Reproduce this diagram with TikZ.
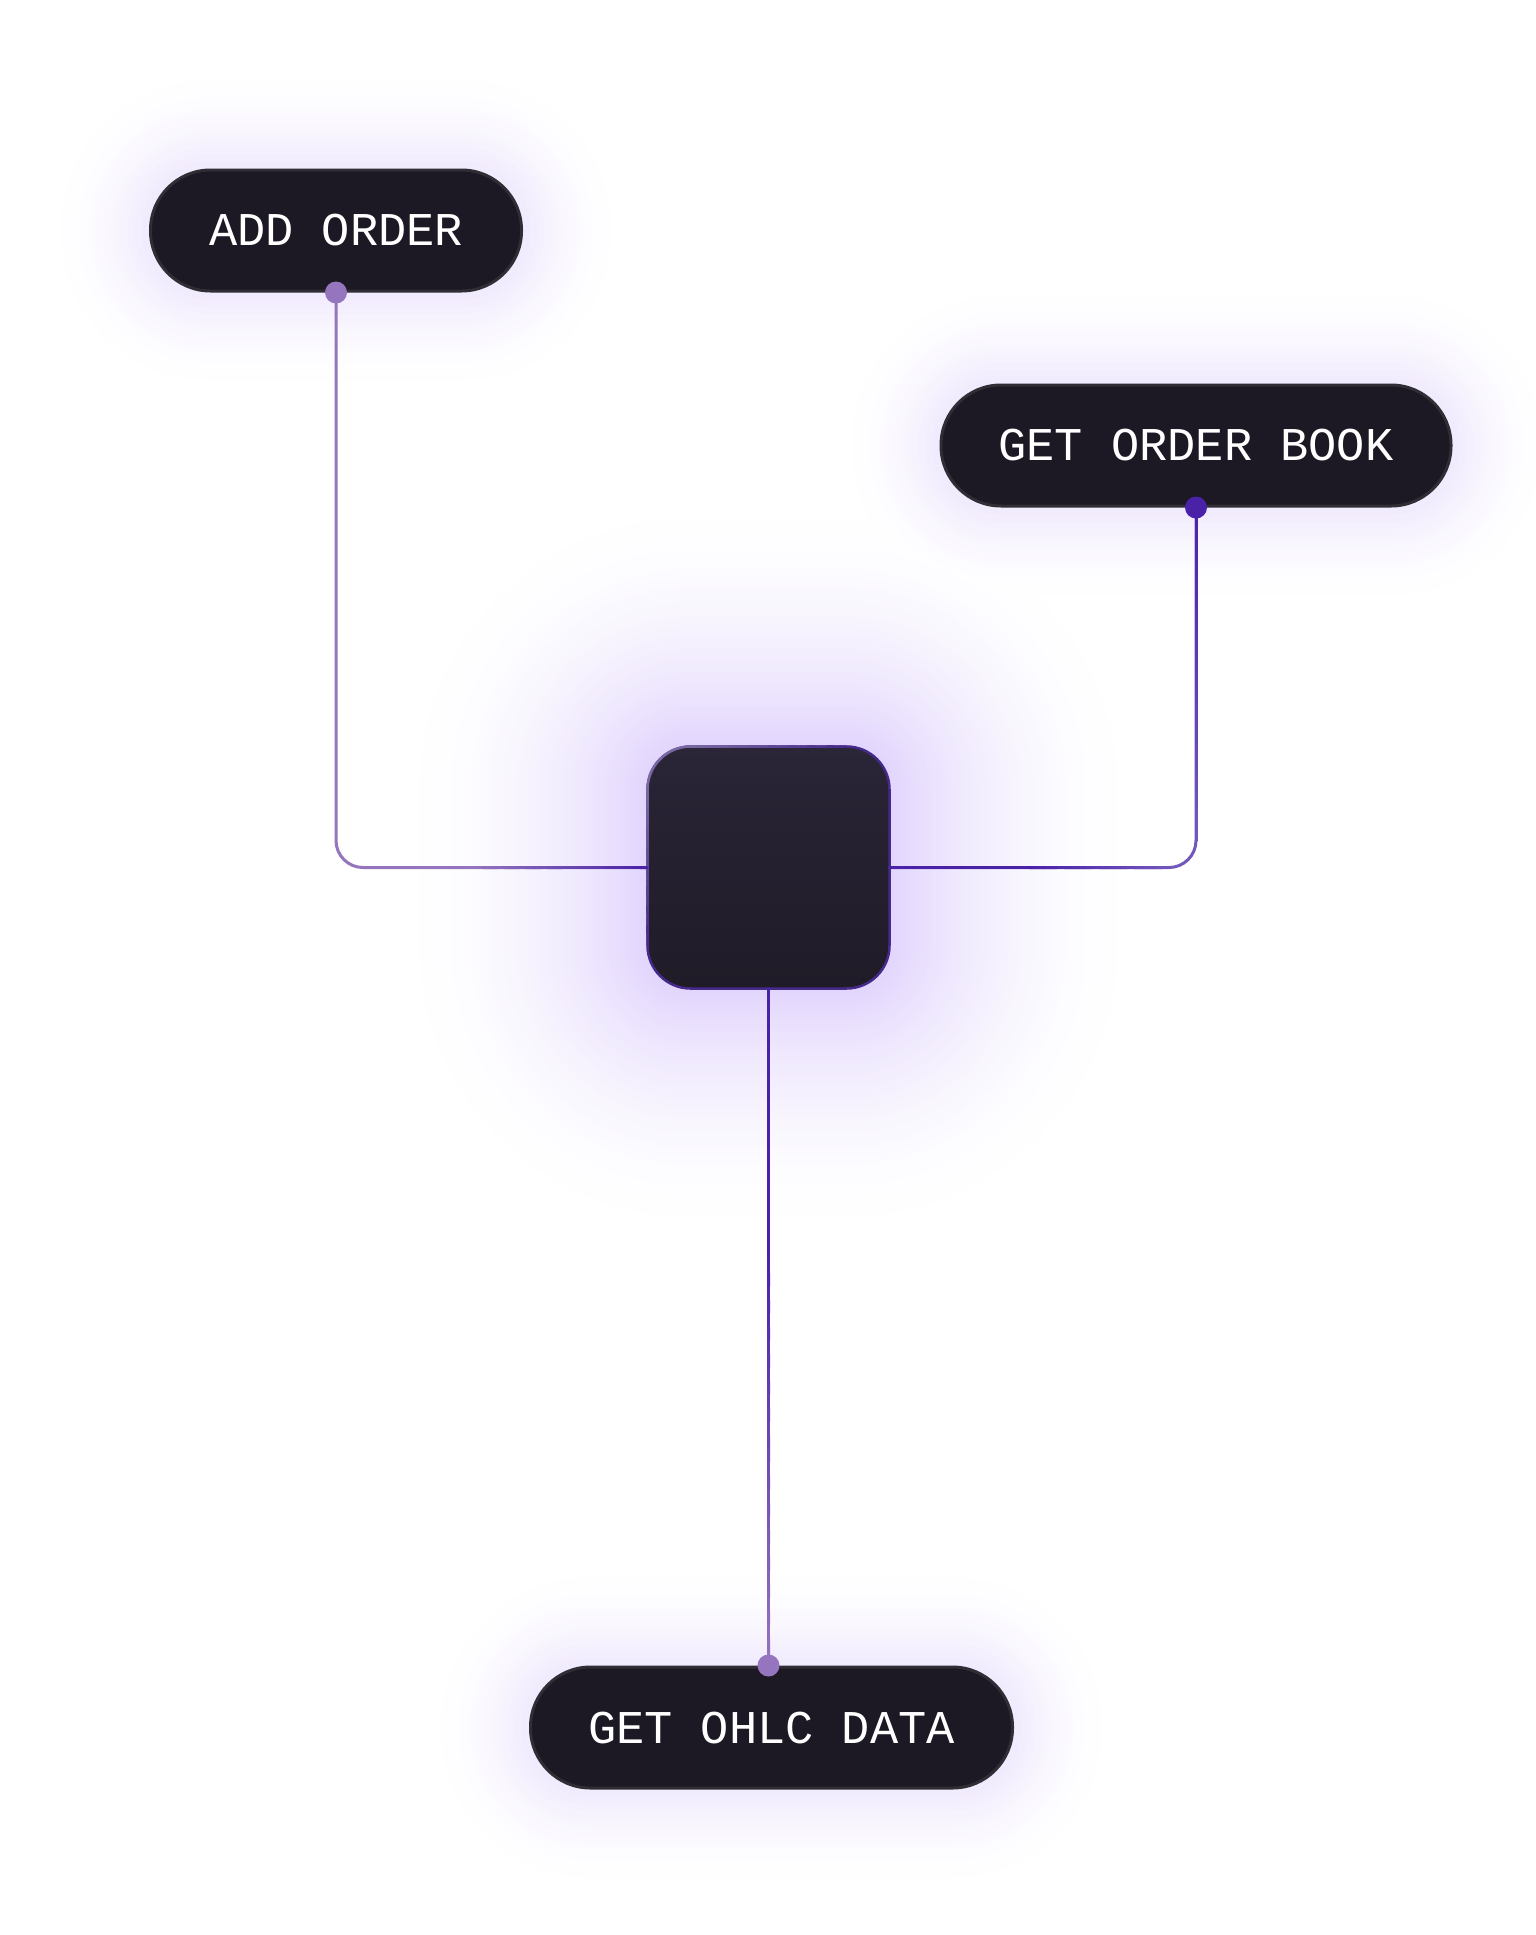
\documentclass[tikz,border=0pt]{standalone}
\usepackage{fontspec}
\setmonofont{Liberation Mono}
\usetikzlibrary{calc,backgrounds}
\definecolor{pillfill}{HTML}{1C1824}
\definecolor{pillborder}{HTML}{302D34}
\definecolor{lightp}{HTML}{9475BE}
\definecolor{darkp}{HTML}{4A22A8}
\definecolor{midp}{HTML}{7357BD}
\definecolor{glowc}{HTML}{C4AAFB}
\definecolor{sqtop}{HTML}{2A2537}
\definecolor{sqbot}{HTML}{1F1B27}
\definecolor{sqborder}{HTML}{452A8A}
\definecolor{sqhilite}{HTML}{7A68A0}
\tikzset{
  pill/.style={draw=pillborder, line width=3pt, fill=pillfill, rounded corners=60pt,
    minimum height=121pt, inner sep=0pt, text=white,
    font=\ttfamily\fontsize{47pt}{47pt}\selectfont},
  conn/.style={line width=3pt, line cap=round},
  rim/.style={line width=2.5pt, line cap=round},
  dotc/.style={circle, inner sep=0pt, minimum size=22pt},
}
% glow: node, layers, step size, max intensity, base radius, colour
\newcommand\glowbox[6]{%
  \foreach \k in {#2,...,1}{%
    \pgfmathsetmacro\dd{\k*#3}%
    \pgfmathsetmacro\rr{#5+\dd}%
    \pgfmathtruncatemacro\ii{round(#4*(1-\k/#2)^2)}%
    \fill[#6!\ii!white, blend mode=darken, rounded corners=\rr pt]
      ([xshift=-\dd pt, yshift=\dd pt]#1.north west) rectangle
      ([xshift=\dd pt, yshift=-\dd pt]#1.south east);
  }}
% gradient line: style, from, to, colour A, colour B, segments
\newcommand\gline[6]{%
  \foreach \i in {1,...,#6}{%
    \pgfmathsetmacro\ta{(\i-1)/#6}%
    \pgfmathsetmacro\tb{\i/#6}%
    \pgfmathtruncatemacro\pc{100*(1-(\i-0.5)/#6)}%
    \draw[#1, draw=#4!\pc!#5] ($(#2)!\ta!(#3)$) -- ($(#2)!\tb!(#3)$);
  }}
\begin{document}
\begin{tikzpicture}[x=1pt,y=-1pt]
\useasboundingbox (0,0) rectangle (1536,1935);

% nodes
\node[pill, minimum width=371pt] (add) at (336,230.5) {ADD ORDER};
\node[pill, minimum width=510pt] (gob) at (1196,445.5) {GET ORDER BOOK};
\node[pill, minimum width=482pt] (ohlc) at (771.5,1727.5) {GET OHLC DATA};
\node[draw=sqborder, line width=2.5pt, top color=sqtop, bottom color=sqbot,
      rounded corners=43pt, minimum size=242pt, inner sep=0pt, outer sep=0pt] (sq) at (768.5,867.5) {};
% lighter rim on the upper left of the square, fading out
\coordinate (rA) at ($(sq.north west)+(0pt,-43pt)$);
\coordinate (rB) at ($(sq.north west)+(43pt,0pt)$);
\coordinate (rT) at ($(sq.north east)+(-43pt,0pt)$);
\coordinate (rL) at ($(sq.south west)+(0pt,43pt)$);
\draw[rim, sqhilite, rounded corners=43pt] (rA) -- (sq.north west) -- (rB);
\gline{rim}{rB}{rT}{sqhilite}{sqborder}{24}
\gline{rim}{rA}{rL}{sqhilite}{sqborder}{24}

\begin{pgfonlayer}{background}
  \fill[white] (0,0) rectangle (1536,1935);
  \glowbox{sq}{64}{4}{50}{43}{glowc}
  \glowbox{add}{30}{3.5}{26}{60}{glowc}
  \glowbox{gob}{30}{3.5}{26}{60}{glowc}
  \glowbox{ohlc}{30}{3.5}{26}{60}{glowc}
\end{pgfonlayer}

% connector end points
\coordinate (p1) at (add.south);
\coordinate (p2) at (gob.south);
\coordinate (p3) at (sq.south |- ohlc.north);

% helper coordinates
\coordinate (cL) at (p1 |- sq.west);
\coordinate (cR) at (p2 |- sq.east);
\coordinate (mL) at ($(cL)!0.45!(sq.west)$);
\coordinate (cRv) at ($(cR)+(0pt,27pt)$);
\coordinate (cRh) at ($(cR)+(-27pt,0pt)$);
\coordinate (mR) at ($(sq.east)!0.5!(cRh)$);
\coordinate (mB) at ($(sq.south)!0.4!(p3)$);

% connectors (base)
\draw[conn, draw=lightp, rounded corners=27pt] (p1) -- (cL) -- (sq.west);
\draw[conn, draw=midp, rounded corners=27pt] (p2) -- (cR) -- (sq.east);
\draw[conn, draw=darkp] (sq.south) -- (p3);
% gradients
\gline{conn}{mL}{sq.west}{lightp}{darkp}{24}
\gline{conn}{p2}{cRv}{darkp}{midp}{30}
\gline{conn}{cRh}{mR}{midp}{darkp}{20}
\draw[conn, draw=darkp] (mR) -- (sq.east);
\gline{conn}{mB}{p3}{darkp}{lightp}{30}

% dots
\node[dotc, fill=lightp] (d1) at (p1) {};
\node[dotc, fill=darkp] (d2) at (p2) {};
\node[dotc, fill=lightp] (d3) at (p3) {};
\end{tikzpicture}
\end{document}
